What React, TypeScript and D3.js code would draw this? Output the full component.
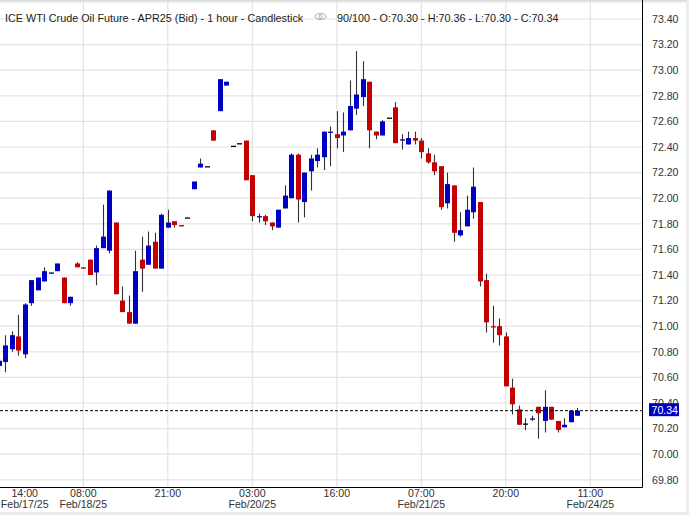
import React from 'react';
import * as d3 from 'd3';

// ---- Data (hourly bars) ----
const opens = [
  70.69, 70.72, 70.82, 70.92, 70.78, 71.18, 71.28, 71.35, 71.41, 71.43,
  71.38, 71.18, 71.49, 71.46, 71.52, 71.42, 71.61, 71.59, 71.81, 71.20,
  71.11, 71.02, 71.52, 71.48, 71.66, 71.45, 71.77, 71.82, 71.79, 71.85,
  72.07, 72.24, 72.25, 72.53, 72.68, 72.88, 72.41, 72.43, 72.45, 72.18,
  71.85, 71.86, 71.81, 71.77, 71.92, 72.00, 72.34, 71.97, 72.21, 72.29,
  72.32, 72.51, 72.50, 72.49, 72.53, 72.70, 72.79, 72.91, 72.52, 72.49,
  72.63, 72.71, 72.45, 72.42, 72.47, 72.45, 72.35, 72.28, 72.25, 71.96,
  72.10, 71.71, 71.78, 71.89, 71.97, 71.36, 71.00, 71.00, 70.92, 70.52,
  70.35, 70.24, 70.27, 70.37, 70.26, 70.37, 70.26, 70.21, 70.25, 70.30,
];
const highs = [
  70.76, 70.93, 70.96, 71.09, 71.18, 71.36, 71.38, 71.46, 71.42, 71.49,
  71.38, 71.23, 71.50, 71.46, 71.52, 71.63, 71.95, 72.06, 71.81, 71.31,
  71.24, 71.59, 71.70, 71.74, 71.73, 71.88, 71.91, 71.82, 71.79, 71.85,
  72.13, 72.31, 72.25, 72.53, 72.93, 72.91, 72.41, 72.43, 72.45, 72.18,
  71.88, 71.87, 71.81, 71.91, 72.10, 72.35, 72.35, 72.20, 72.34, 72.39,
  72.52, 72.56, 72.68, 72.67, 72.92, 73.15, 73.07, 72.91, 72.52, 72.61,
  72.63, 72.75, 72.50, 72.52, 72.52, 72.47, 72.39, 72.34, 72.25, 72.20,
  72.10, 71.89, 72.02, 72.24, 71.97, 71.41, 71.16, 71.06, 70.95, 70.59,
  70.38, 70.28, 70.30, 70.37, 70.50, 70.37, 70.26, 70.28, 70.34, 70.36,
];
const lows = [
  70.64, 70.64, 70.80, 70.77, 70.75, 71.16, 71.28, 71.35, 71.41, 71.43,
  71.18, 71.16, 71.46, 71.45, 71.40, 71.32, 71.61, 71.57, 71.25, 71.11,
  71.02, 71.02, 71.27, 71.48, 71.45, 71.45, 71.77, 71.77, 71.78, 71.85,
  72.07, 72.24, 72.25, 72.45, 72.68, 72.88, 72.41, 72.43, 72.14, 71.82,
  71.81, 71.79, 71.75, 71.77, 71.92, 72.00, 71.81, 71.85, 72.06, 72.24,
  72.22, 72.25, 72.39, 72.36, 72.53, 72.65, 72.72, 72.39, 72.46, 72.49,
  72.63, 72.43, 72.38, 72.42, 72.42, 72.31, 72.27, 72.18, 71.91, 71.92,
  71.66, 71.70, 71.78, 71.84, 71.31, 70.95, 70.87, 70.85, 70.53, 70.31,
  70.23, 70.19, 70.26, 70.12, 70.17, 70.27, 70.17, 70.21, 70.25, 70.30,
];
const closes = [
  70.73, 70.85, 70.93, 70.81, 71.17, 71.36, 71.38, 71.43, 71.42, 71.49,
  71.18, 71.23, 71.46, 71.45, 71.40, 71.61, 71.70, 72.06, 71.25, 71.11,
  71.02, 71.43, 71.45, 71.63, 71.45, 71.87, 71.81, 71.79, 71.78, 71.85,
  72.13, 72.27, 72.25, 72.45, 72.93, 72.91, 72.41, 72.43, 72.14, 71.86,
  71.86, 71.82, 71.78, 71.91, 72.02, 72.34, 71.99, 72.20, 72.31, 72.34,
  72.52, 72.52, 72.47, 72.52, 72.72, 72.81, 72.93, 72.53, 72.49, 72.60,
  72.63, 72.43, 72.46, 72.47, 72.45, 72.36, 72.28, 72.21, 71.93, 72.11,
  71.73, 71.75, 71.91, 72.09, 71.35, 71.03, 70.99, 70.93, 70.53, 70.39,
  70.23, 70.24, 70.28, 70.32, 70.37, 70.27, 70.19, 70.23, 70.34, 70.34,
];

const yTickLabels = [
  '69.80', '70.00', '70.20', '70.40', '70.60', '70.80', '71.00', '71.20', '71.40',
  '71.60', '71.80', '72.00', '72.20', '72.40', '72.60', '72.80', '73.00', '73.20', '73.40',
];
const xTickBars = [0, 13, 26, 39, 52, 65, 78, 91];
const xTickTimes = ['14:00', '08:00', '21:00', '03:00', '16:00', '07:00', '20:00', '11:00'];
const xTickDates = ['Feb/17/25', 'Feb/18/25', '', 'Feb/20/25', '', 'Feb/21/25', '', 'Feb/24/25'];

const lastPrice = 70.34;
const titleText = 'ICE WTI Crude Oil Future - APR25 (Bid) - 1 hour - Candlestick';
const ohlcText = '90/100 - O:70.30 - H:70.36 - L:70.30 - C:70.34';

const UP = '#0000c4';
const DOWN = '#c40000';
const FONT = '"Liberation Sans", Arial, sans-serif';

export default function App() {
  const W = 689;
  const H = 515;
  const plotRight = 642.5;
  const plotBottom = 487.5;

  const y = d3.scaleLinear().domain([69.8, 73.4]).range([479.8, 19]);
  const x = d3.scaleLinear().domain([0, 91]).range([-1.2, -1.2 + 91 * 6.5]);

  const bars = opens.map((o, i) => ({ i, o, h: highs[i], l: lows[i], c: closes[i] }));

  return (
    <svg
      width={W}
      height={H}
      style={{ position: 'absolute', left: 0, top: 0, background: '#fff' }}
      fontFamily={FONT}
    >
      <defs>
        <linearGradient id="topShade" x1="0" y1="0" x2="0" y2="1">
          <stop offset="0" stopColor="#d0d0d0" />
          <stop offset="1" stopColor="#ffffff" stopOpacity="0" />
        </linearGradient>
        <clipPath id="plotClip">
          <rect x={0} y={0} width={plotRight} height={plotBottom} />
        </clipPath>
      </defs>
      <rect x={0} y={0} width={W} height={H} fill="#fff" />

      {/* horizontal grid */}
      {yTickLabels.map((t) => (
        <line key={'hg' + t} x1={0} x2={plotRight} y1={y(+t)} y2={y(+t)} stroke="#e3e3e3" strokeWidth={1.2} />
      ))}
      {/* vertical grid */}
      {xTickBars.map((b) => (
        <line key={'vg' + b} x1={x(b)} x2={x(b)} y1={0} y2={plotBottom} stroke="#e3e3e3" strokeWidth={1.2} />
      ))}

      <rect x={0} y={0} width={W - 3} height={5} fill="url(#topShade)" />

      {/* candles */}
      <g clipPath="url(#plotClip)">
        {bars.map((d) => {
          const cx = Math.round(x(d.i));
          return (
            <line
              key={'w' + d.i}
              x1={cx + 0.5}
              x2={cx + 0.5}
              y1={y(d.h)}
              y2={y(d.l)}
              stroke="#333"
              strokeWidth={1.1}
            />
          );
        })}
        {bars.map((d) => {
          const cx = Math.round(x(d.i));
          const top = y(Math.max(d.o, d.c));
          const bot = y(Math.min(d.o, d.c));
          const hgt = Math.max(1.3, bot - top);
          const col = d.c > d.o ? UP : d.c < d.o ? DOWN : '#000';
          return <rect key={'b' + d.i} x={cx - 2} y={top} width={5} height={hgt} fill={col} />;
        })}
      </g>

      {/* last price dashed line */}
      <line
        x1={0}
        x2={plotRight}
        y1={y(lastPrice)}
        y2={y(lastPrice)}
        stroke="#000"
        strokeWidth={1}
        strokeDasharray="3,2"
      />

      {/* frame */}
      <line x1={plotRight} x2={plotRight} y1={0} y2={plotBottom} stroke="#000" strokeWidth={1} />
      <line x1={0} x2={plotRight} y1={plotBottom} y2={plotBottom} stroke="#000" strokeWidth={1} />

      {/* y axis labels */}
      {yTickLabels.map((t) => (
        <text key={'yl' + t} x={652} y={y(+t) + 3.8} fontSize={10.6} fill="#333">
          {t}
        </text>
      ))}

      {/* last price box */}
      <rect x={649} y={y(lastPrice) - 7.5} width={30} height={13} fill={UP} />
      <text x={651.5} y={y(lastPrice) + 3.6} fontSize={10.6} fill="#fff">
        {lastPrice.toFixed(2)}
      </text>

      {/* x axis labels */}
      {xTickBars.map((b, k) => {
        const cx = Math.max(x(b), 24.7);
        return (
          <g key={'xl' + b}>
            <text x={cx} y={497} fontSize={10.6} fill="#333" textAnchor="middle">
              {xTickTimes[k]}
            </text>
            {xTickDates[k] ? (
              <text x={cx} y={508} fontSize={10.6} fill="#333" textAnchor="middle">
                {xTickDates[k]}
              </text>
            ) : null}
          </g>
        );
      })}

      {/* header */}
      <text x={5} y={21.5} fontSize={10.8} fill="#222">
        {titleText}
      </text>
      <g stroke="#9a9a9a" fill="none" strokeWidth={0.9}>
        <ellipse cx={320.5} cy={16.5} rx={5.5} ry={3} />
        <circle cx={320.5} cy={16.5} r={1.6} />
      </g>
      <text x={337} y={21.5} fontSize={10.8} fill="#222">
        {ohlcText}
      </text>

      {/* panel shadow edges */}
      <rect x={0} y={512} width={W} height={3} fill="#ececec" />
      <rect x={686} y={0} width={3} height={H} fill="#ececec" />
    </svg>
  );
}
